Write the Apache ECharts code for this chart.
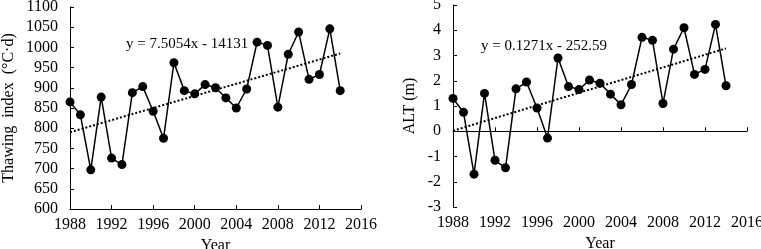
<!DOCTYPE html>
<html>
<head>
<meta charset="utf-8">
<script src="https://cdn.jsdelivr.net/npm/echarts@6/dist/echarts.min.js"></script>
<style>
  html, body { margin: 0; padding: 0; background: #fff; }
  #chart { width: 761px; height: 249px; }
</style>
</head>
<body>
<div id="chart"></div>
<script>
// years 1988 - 2014
const years = [1988, 1989, 1990, 1991, 1992, 1993, 1994, 1995, 1996, 1997, 1998, 1999, 2000,
  2001, 2002, 2003, 2004, 2005, 2006, 2007, 2008, 2009, 2010, 2011, 2012, 2013, 2014];

const thawIndex = [865, 833, 697, 877, 726, 710, 888, 903, 842, 775, 962, 893, 885,
  908, 900, 875, 850, 897, 1013, 1005, 852, 983, 1038, 921, 933, 1046, 893];

const alt = [1.3, 0.75, -1.7, 1.5, -1.15, -1.45, 1.68, 1.95, 0.92, -0.27, 2.9, 1.77, 1.65,
  2.03, 1.9, 1.47, 1.05, 1.85, 3.72, 3.6, 1.1, 3.25, 4.1, 2.25, 2.45, 4.23, 1.8];

// trend line end points
const thawTrend = [[1988, 790], [2014, 985]];
const altTrend = [[1988, 0.02], [2014, 3.28]];

const thawEq = 'y = 7.5054x - 14131';
const altEq = 'y = 0.1271x - 252.59';

const font = 'Liberation Serif';
const black = '#000';

function xAxisFor(idx) {
  return {
    type: 'value',
    gridIndex: idx,
    min: 1988,
    max: 2016,
    interval: 4,
    name: 'Year',
    nameLocation: 'middle',
    nameGap: 29,
    nameTextStyle: { color: black, fontFamily: font, fontSize: 16 },
    splitLine: { show: false },
    axisLine: { lineStyle: { color: black, width: 1 } },
    axisTick: { inside: true, length: 4, lineStyle: { color: black } },
    axisLabel: { color: black, fontFamily: font, fontSize: 16, margin: 8, formatter: v => String(v) }
  };
}

function yAxisFor(idx, min, max, interval, name, gap) {
  return {
    type: 'value',
    gridIndex: idx,
    min: min,
    max: max,
    interval: interval,
    name: name,
    nameLocation: 'middle',
    nameGap: gap,
    nameTextStyle: { color: black, fontFamily: font, fontSize: 16 },
    splitLine: { show: false },
    axisLine: { show: true, lineStyle: { color: black, width: 1 } },
    axisTick: { show: true, inside: true, length: 4, lineStyle: { color: black } },
    axisLabel: { color: black, fontFamily: font, fontSize: 16, margin: 12, formatter: v => String(v) }
  };
}

function dataSeries(idx, values) {
  return {
    type: 'line',
    xAxisIndex: idx,
    yAxisIndex: idx,
    data: years.map((y, i) => [y, values[i]]),
    symbol: 'circle',
    symbolSize: 9,
    itemStyle: { color: black },
    lineStyle: { color: black, width: 1.5 },
    z: 3
  };
}

function trendSeries(idx, pts) {
  return {
    type: 'line',
    xAxisIndex: idx,
    yAxisIndex: idx,
    data: pts,
    symbol: 'none',
    lineStyle: { color: black, width: 2, type: [2, 2] },
    z: 2
  };
}

const chart = echarts.init(document.getElementById('chart'));
chart.setOption({
  backgroundColor: '#fff',
  animation: false,
  grid: [
    { left: 70, right: 400, top: 7, bottom: 40, outerBoundsMode: 'none' },
    { left: 453, right: 14, top: 5, bottom: 42, outerBoundsMode: 'none' }
  ],
  xAxis: [xAxisFor(0), xAxisFor(1)],
  yAxis: [
    yAxisFor(0, 600, 1100, 50, 'Thawing  index  (\u00B0C\u00B7d)', 53),
    yAxisFor(1, -3, 5, 1, 'ALT (m)', 35)
  ],
  graphic: [
    { type: 'text', left: 126, top: 37, style: { text: thawEq, fill: black, font: '15px "' + font + '"' } },
    { type: 'text', left: 481, top: 39, style: { text: altEq, fill: black, font: '15px "' + font + '"' } }
  ],
  series: [
    trendSeries(0, thawTrend),
    dataSeries(0, thawIndex),
    trendSeries(1, altTrend),
    dataSeries(1, alt)
  ]
});
</script>
</body>
</html>
